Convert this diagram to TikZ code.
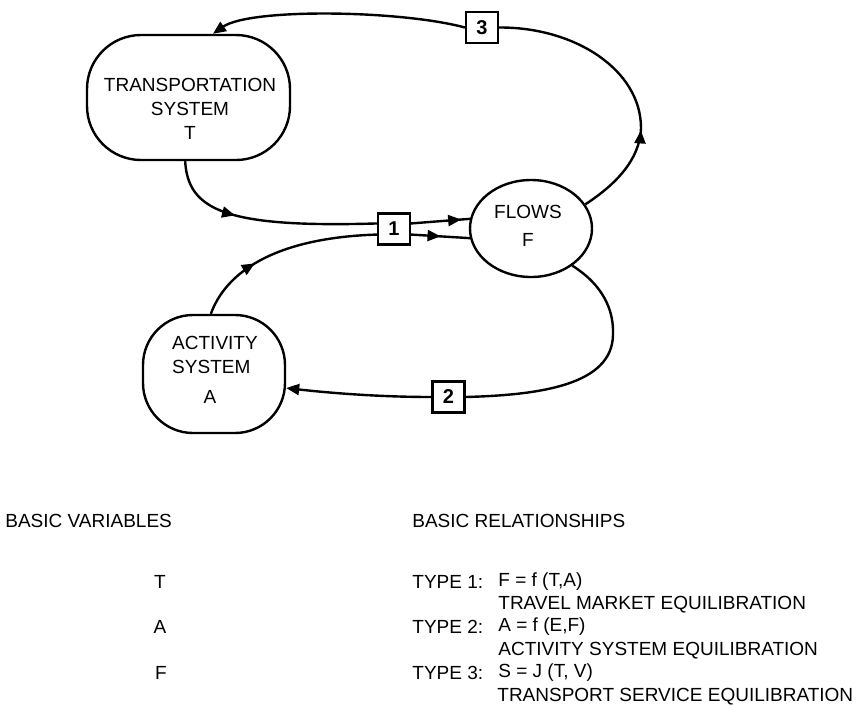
\documentclass[tikz,border=0pt]{standalone}
\usepackage{fontspec}
\setmainfont{Liberation Sans}
\usepackage{tikz}
\usetikzlibrary{
    arrows.meta,
    shapes.geometric,
    decorations.markings
}
\tikzset{
    % filled triangle at the end of a connector
    flowtip/.style={-{Triangle[length=6.5pt,width=5.5pt]}},
    % filled triangle part way along a connector
    midarrow/.style={
        postaction={
            decorate,
            decoration={
                markings,
                mark=at position #1 with {\arrow{Triangle[length=6.5pt,width=5.5pt]}}
            }
        }
    },
    midarrow/.default=.5,
    blob/.style={draw, line width=1.2pt},
    numbox/.style={draw, fill=white, line width=1.1pt, minimum width=16pt,
        minimum height=15.5pt, inner sep=0pt,
        font=\fontsize{10}{12}\selectfont\bfseries},
    lbl/.style={font=\fontsize{9.5}{12}\selectfont, inner sep=0pt},
    legend/.style={font=\fontsize{9.5}{11.5}\selectfont, inner sep=0pt, anchor=west}
}

\begin{document}
\begin{tikzpicture}[x=0.5pt, y=-0.5pt]
            \useasboundingbox (0,0) rectangle (863,708);
            % the three systems
            \node[blob, rectangle, rounded corners=27pt, minimum width=101.5pt,
                minimum height=62.5pt] (T) at (188.5,97.5) {};
            \node[blob, ellipse, minimum width=61pt, minimum height=48.5pt] (F) at (531,228.5) {};
            \node[blob, rectangle, rounded corners=25pt, minimum width=71pt,
                minimum height=59pt] (A) at (214,374) {};
            \node[lbl, align=center] (Ttxt) at (190,109) {TRANSPORTATION\\SYSTEM\\T};
            \node[lbl, align=center] (Ftxt) at (528,226) {FLOWS\\[2pt]F};
            \node[lbl, align=left] (Atxt) at (215,355) {ACTIVITY\\SYSTEM};
            \node[lbl] (Aname) at (210,397) {A};
            % relationship boxes
            \node[numbox] (b1) at (394,229) {1};
            \node[numbox] (b2) at (448.5,397) {2};
            \node[numbox] (b3) at (482,27.5) {3};
            \begin{scope}[line width=1.2pt]
                \draw[midarrow=.36] (T.-93) .. controls (188,210) and (225,228) .. (b1.162);
                \draw[midarrow=.35] (A.93) .. controls (225,275) and (270,238) .. (b1.198);
                \draw[midarrow=.85] (b1.18) -- (F.171);
                \draw[midarrow=.5] (b1.-18) -- (F.189);
                \draw[midarrow=.33] (F.24) .. controls (615,185) and (640,160) .. (641,128)
                    .. controls (641,70) and (575,27) .. (b3.east);
                \draw[flowtip] (b3.west) .. controls (400,10) and (250,8) .. (T.69);
                \draw (F.-42) .. controls (603,285) and (614,310) .. (613,335)
                    .. controls (612,385) and (540,395) .. (b2.east);
                \draw[flowtip] (b2.west) .. controls (380,397) and (330,393) .. (A.-11);
            \end{scope}
            % legend
            \node[legend] (vars) at (5,521) {BASIC VARIABLES};
            \node[legend] (rels) at (412,521) {BASIC RELATIONSHIPS};
            \node[lbl] (vT) at (160,582) {T};
            \node[lbl] (vA) at (160,627) {A};
            \node[lbl] (vF) at (161,673) {F};
            \node[legend] (ty1) at (412,582) {TYPE 1:};
            \node[legend] (eq1) at (498,582) {F = f (T,A)};
            \node[legend] (nm1) at (498,605) {TRAVEL MARKET EQUILIBRATION};
            \node[legend] (ty2) at (412,627) {TYPE 2:};
            \node[legend] (eq2) at (498,627) {A = f (E,F)};
            \node[legend] (nm2) at (498,651) {ACTIVITY SYSTEM EQUILIBRATION};
            \node[legend] (ty3) at (412,673) {TYPE 3:};
            \node[legend] (eq3) at (498,673) {S = J (T, V)};
            \node[legend] (nm3) at (497,697) {TRANSPORT SERVICE EQUILIBRATION};
\end{tikzpicture}
\end{document}
